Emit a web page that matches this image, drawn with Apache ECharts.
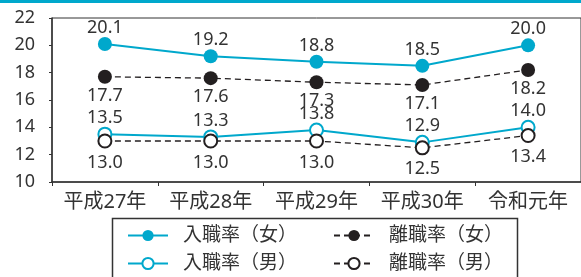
<!DOCTYPE html>
<html>
<head>
<meta charset="utf-8">
<script src="https://cdn.jsdelivr.net/npm/echarts@6/dist/echarts.min.js"></script>
<style>
  html,body{margin:0;padding:0;background:#fff;}
  #chart{width:581px;height:277px;}
</style>
</head>
<body>
<div id="chart"></div>
<script>
// 年度
const years = ['平成27年', '平成28年', '平成29年', '平成30年', '令和元年']
// 率 (%)
const hireFemale = [20.1, 19.2, 18.8, 18.5, 20.0]
const leaveFemale = [17.7, 17.6, 17.3, 17.1, 18.2]
const hireMale = [13.5, 13.3, 13.8, 12.9, 14.0]
const leaveMale = [13.0, 13.0, 13.0, 12.5, 13.4]
const yTicks = {min: 10, max: 22, interval: 2}
const names = ['入職率（女）', '離職率（女）', '入職率（男）', '離職率（男）']

const CYAN = '#00a8cc'
const DARK = '#231f20'
const TXT = '#333'
const FONT = "'Noto Sans', 'Noto Sans CJK JP', sans-serif"

function lineSeries(name, data, color, filled, dashed, labelPos, dist){
  return {
    name: name,
    type: 'line',
    data: data,
    symbol: filled ? 'circle' : 'emptyCircle',
    symbolSize: filled ? 14 : 13,
    lineStyle: {color: color, width: dashed ? 1.3 : 2, type: dashed ? [6, 4] : 'solid'},
    itemStyle: {color: color, borderWidth: filled ? 0 : 2},
    label: {
      show: true,
      position: labelPos,
      distance: dist,
      formatter: p => p.value.toFixed(1),
      fontSize: 18,
      lineHeight: 18,
      fontFamily: FONT,
      color: TXT
    },
    emphasis: {disabled: true},
    animation: false
  }
}

// 凡例 (2行)
function legendRow(top, data){
  return {
    left: 127, top: top,
    itemWidth: 40, itemHeight: 14,
    itemGap: 36,
    padding: 0,
    textStyle: {fontSize: 19, fontFamily: FONT, color: TXT, padding: [0, 0, 0, 10]},
    data: data
  }
}

const chart = echarts.init(document.getElementById('chart'))
chart.setOption({
  animation: false,
  graphic: [{
    type: 'rect',
    shape: {x: 0, y: 0, width: 581, height: 3},
    style: {fill: CYAN}
  }, {
    type: 'rect',
    shape: {x: 112.5, y: 218.5, width: 405, height: 80},
    style: {fill: 'none', stroke: TXT, lineWidth: 1.5}
  }],
  grid: {
    left: 52, top: 18, right: -4, bottom: 95,
    show: true, borderColor: TXT, borderWidth: 1
  },
  xAxis: {
    type: 'category',
    data: years,
    boundaryGap: true,
    axisLine: {lineStyle: {color: TXT, width: 1.5}},
    axisTick: {show: true, interval: 0, length: 4, lineStyle: {color: TXT}},
    axisLabel: {interval: 0, fontSize: 20, fontFamily: FONT, color: TXT, margin: 10}
  },
  yAxis: {
    type: 'value',
    min: yTicks.min, max: yTicks.max, interval: yTicks.interval,
    splitLine: {show: false},
    axisLine: {show: true, lineStyle: {color: TXT, width: 1.5}},
    axisTick: {show: true, length: 3, lineStyle: {color: TXT}},
    axisLabel: {fontSize: 18, fontFamily: FONT, color: TXT, margin: 17}
  },
  legend: [
    legendRow(226, [names[0], names[1]]),
    legendRow(254, [names[2], names[3]])
  ],
  series: [
    lineSeries(names[0], hireFemale, CYAN, true, false, 'top', 0),
    lineSeries(names[1], leaveFemale, DARK, true, true, 'bottom', 3),
    lineSeries(names[2], hireMale, CYAN, false, false, 'top', 0),
    lineSeries(names[3], leaveMale, DARK, false, true, 'bottom', 5)
  ]
})
</script>
</body>
</html>
